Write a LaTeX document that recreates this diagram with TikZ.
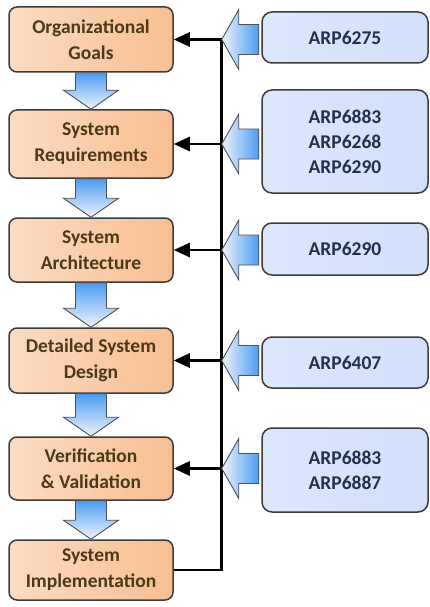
\documentclass[tikz,border=0pt]{standalone}
\usepackage{fontspec}
\setmainfont{Carlito}
\usetikzlibrary{arrows.meta,calc}
\definecolor{edgegray}{HTML}{3C3C3C}
\definecolor{orangeA}{HTML}{FCDCC2}
\definecolor{orangeB}{HTML}{F39A55}
\definecolor{orangeC}{HTML}{F7BE92}
\definecolor{blueA}{HTML}{DCE6FB}
\definecolor{blueB}{HTML}{A3BFF4}
\definecolor{blueC}{HTML}{D3E0FA}
\definecolor{arrowblue}{HTML}{4C9CF2}
\definecolor{arrowpale}{HTML}{EEF4FD}
\definecolor{ltext}{HTML}{4A3A1A}
\definecolor{rtext}{HTML}{22304E}
\newcommand{\dnarr}[2]{\path[barrow, top color=arrowblue, bottom color=arrowpale]
  ($(#1.south)+(-15.5,0)$) -- ($(#2.north)+(-15.5,-19)$) -- ($(#2.north)+(-27.5,-19)$)
  -- (#2.north) -- ($(#2.north)+(27.5,-19)$) -- ($(#2.north)+(15.5,-19)$)
  -- ($(#1.south)+(15.5,0)$) -- cycle;}
\newcommand{\lfarr}[1]{\path[barrow, right color=arrowblue, left color=arrowpale]
  (#1) -- ($(#1)+(17,-30)$) -- ($(#1)+(17,-15)$) -- ($(#1)+(37,-15)$)
  -- ($(#1)+(37,15)$) -- ($(#1)+(17,15)$) -- ($(#1)+(17,30)$) -- cycle;}
\begin{document}
\begin{tikzpicture}[x=1pt,y=-1pt,
  lbox/.style={draw=edgegray, line width=1.5pt, rounded corners=8pt,
    minimum width=164pt, align=center, inner sep=0pt,
    left color=orangeA, middle color=orangeB, right color=orangeC,
    text=ltext, font=\fontsize{19.5}{26}\selectfont\bfseries},
  rbox/.style={draw=edgegray, line width=1.5pt, rounded corners=10pt,
    minimum width=166pt, align=center, inner sep=0pt,
    left color=blueA, middle color=blueB, right color=blueC,
    text=rtext, font=\fontsize{19.5}{25}\selectfont\bfseries},
  barrow/.style={draw=edgegray!90, line width=0.9pt, line join=miter},
  conn/.style={line width=2.6pt, draw=black},
  tip/.style={-{Triangle[length=16pt,width=14pt]}}]
\useasboundingbox (0,0) rectangle (430,607);
% left column
\node[lbox, minimum height=65pt] (g1) at (91,39.5) {Organizational\\Goals};
\node[lbox, minimum height=68pt] (g2) at (91,144) {System\\Requirements};
\node[lbox, minimum height=64pt] (g3) at (91,250) {System\\Architecture};
\node[lbox, minimum height=65pt] (g4) at (91,360.5) {Detailed System\\Design};
\node[lbox, minimum height=63pt] (g5) at (91,468.5) {Verification\\\& Validation};
\node[lbox, minimum height=60pt] (g6) at (91,570) {System\\Implementation};
% right column
\node[rbox, minimum height=51pt] (r1) at (345,37.5) {ARP6275};
\node[rbox, minimum height=103pt] (r2) at (345,141.5) {ARP6883\\ARP6268\\ARP6290};
\node[rbox, minimum height=52pt] (r3) at (345,249) {ARP6290};
\node[rbox, minimum height=51pt] (r4) at (345,362.5) {ARP6407};
\node[rbox, minimum height=84pt] (r5) at (345,470) {ARP6883\\ARP6887};
% down block arrows
\dnarr{g1}{g2}
\dnarr{g2}{g3}
\dnarr{g3}{g4}
\dnarr{g4}{g5}
\dnarr{g5}{g6}
% junctions on the bus
\coordinate (j1) at ($(g1.east)+(48,0)$);
\coordinate (j2) at ($(g2.east)+(48,0)$);
\coordinate (j3) at ($(g3.east)+(48,0)$);
\coordinate (j4) at ($(g4.east)+(48,0)$);
\coordinate (j5) at ($(g5.east)+(48,0)$);
\coordinate (j6) at ($(g6.east)+(48,0)$);
% bus
\draw[conn, line join=miter] (g6.east) -- (j6) -- ([yshift=-1.3pt]j1);
\draw[conn, tip] (j1) -- (g1.east);
\draw[conn, tip] (j2) -- (g2.east);
\draw[conn, tip] (j3) -- (g3.east);
\draw[conn, tip] (j4) -- (g4.east);
\draw[conn, tip] (j5) -- (g5.east);
% left block arrows from standards
\lfarr{j1}
\lfarr{j2}
\lfarr{j3}
\lfarr{j4}
\lfarr{j5}
\end{tikzpicture}
\end{document}
